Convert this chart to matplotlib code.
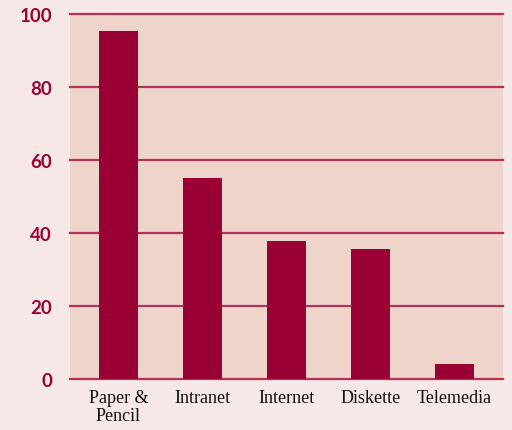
import matplotlib
matplotlib.use("Agg")
import matplotlib.pyplot as plt

categories = ["Paper &\nPencil", "Intranet", "Internet", "Diskette", "Telemedia"]
values = [95.3, 55.1, 37.8, 35.6, 4.1]
yticks = [0, 20, 40, 60, 80, 100]

crimson = "#990033"
fig = plt.figure(figsize=(5.12, 4.31), dpi=100, facecolor="#f6e8e6")
ax = fig.add_axes([70/512, 51/431, 433/512, 365/431])
ax.set_facecolor("#eed4cb")

x = list(range(len(categories)))
ax.bar(x, values, width=0.464, color=crimson, zorder=3)
ax.set_xlim(-0.577, 4.577)
ax.set_ylim(0, 100)
ax.set_yticks(yticks)
ax.set_yticklabels([str(t) for t in yticks], color=crimson, fontsize=13.5,
                   fontweight="bold", family="Lato")
ax.set_xticks(x)
ax.set_xticklabels(categories, family="Liberation Serif", fontsize=13, color="#111111",
                   linespacing=1.1)
ax.tick_params(axis="y", length=0, pad=13)
ax.tick_params(axis="x", length=0, pad=7)
for t in yticks:
    ax.axhline(t, color="#b33358", lw=1.6, zorder=2, clip_on=False)
for s in ax.spines.values():
    s.set_visible(False)

fig.savefig("out.png", dpi=100, facecolor=fig.get_facecolor())
